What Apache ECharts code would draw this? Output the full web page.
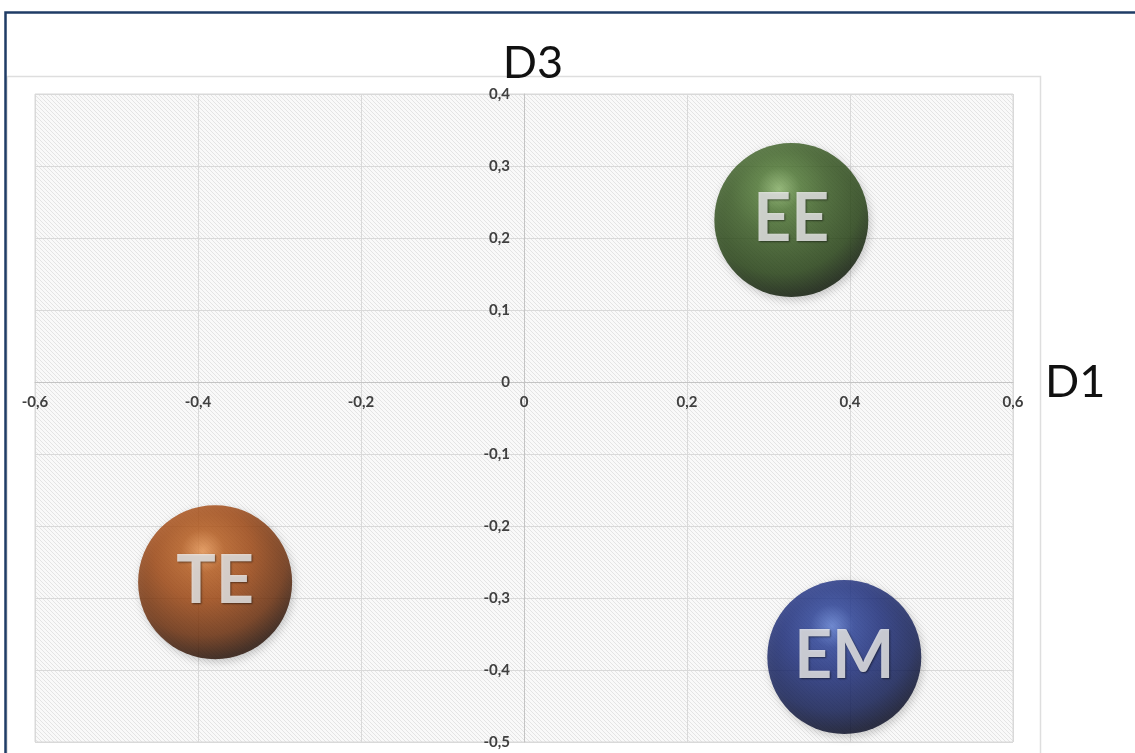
<!DOCTYPE html>
<html>
<head>
<meta charset="utf-8">
<script src="https://cdn.jsdelivr.net/npm/echarts@6/dist/echarts.min.js"></script>
<style>
  html, body { margin: 0; padding: 0; background: #ffffff; }
  #chart { width: 1135px; height: 753px; }
</style>
</head>
<body>
<div id="chart"></div>
<script>
// Group positions on the D1 / D3 plane
const categories = ['EE', 'TE', 'EM'];
const d1Values = [0.328, -0.379, 0.393];
const d3Values = [0.225, -0.278, -0.382];

// Axis extents and tick steps
const d1Range = [-0.6, 0.6];
const d1Step = 0.2;
const d3Range = [-0.5, 0.4];
const d3Step = 0.1;

// Sphere shading per group: highlight, light body, body, shade, rim
const sphereColors = {
  EE: ['#8ab569', '#4e7832', '#375a20', '#223f10', '#091503'],
  TE: ['#eb9550', '#b85a1a', '#a0450e', '#6a2a06', '#240c01'],
  EM: ['#5a7ad2', '#283f98', '#1a2b7c', '#0f1b54', '#040822']
};

function sphere(c) {
  return {
    type: 'radial', x: 0.42, y: 0.3, r: 0.7,
    colorStops: [
      { offset: 0, color: c[0] },
      { offset: 0.2, color: c[1] },
      { offset: 0.45, color: c[2] },
      { offset: 0.78, color: c[3] },
      { offset: 1, color: c[4] }
    ]
  };
}

// Fine diagonal hatch used as the plot-area fill
function hatchPattern() {
  const cv = document.createElement('canvas');
  cv.width = 4; cv.height = 4;
  const ctx = cv.getContext('2d');
  ctx.fillStyle = '#f9f9f9';
  ctx.fillRect(0, 0, 4, 4);
  ctx.strokeStyle = '#e4e4e4';
  ctx.lineWidth = 1;
  ctx.beginPath();
  ctx.moveTo(-1, -1); ctx.lineTo(5, 5);
  ctx.moveTo(-3, 1); ctx.lineTo(3, 7);
  ctx.moveTo(1, -3); ctx.lineTo(7, 3);
  ctx.stroke();
  return { image: cv, repeat: 'repeat' };
}

const fmt = v => (Math.abs(v) < 1e-9 ? '0' : v.toFixed(1).replace('.', ','));

// Plot box
const W = 1135, H = 753;
const gridBox = { left: 35, right: 122, top: 94, bottom: 11 };
const gridW = W - gridBox.left - gridBox.right;
const gridH = H - gridBox.top - gridBox.bottom;

// Shift both axes so they cross at the origin, labels included
const yAxisShift = -gridW * (0 - d1Range[0]) / (d1Range[1] - d1Range[0]);
const xAxisShift = -gridH * (0 - d3Range[0]) / (d3Range[1] - d3Range[0]);

const points = categories.map((name, i) => ({
  name: name,
  value: [d1Values[i], d3Values[i]],
  itemStyle: { color: sphere(sphereColors[name]) }
}));

const tickLabelStyle = {
  formatter: fmt, hideOverlap: false,
  fontFamily: 'Lato', fontWeight: 'bold', fontSize: 15, color: '#404040'
};

const chart = echarts.init(document.getElementById('chart'), null, { renderer: 'canvas' });

chart.setOption({
  animation: false,
  backgroundColor: '#ffffff',
  graphic: [
    {
      type: 'polyline', silent: true, z: 0,
      shape: { points: [[7, 753], [7, 76.5], [1040.5, 76.5], [1040.5, 753]] },
      style: { stroke: '#dedede', lineWidth: 1.5, fill: null }
    },
    {
      type: 'polyline', silent: true, z: 10,
      shape: { points: [[5.5, 753], [5.5, 12.5], [1135, 12.5]] },
      style: { stroke: '#1f3c66', lineWidth: 2.5, fill: null }
    }
  ],
  grid: {
    left: gridBox.left, right: gridBox.right, top: gridBox.top, bottom: gridBox.bottom,
    containLabel: false,
    outerBoundsMode: 'none',
    show: true,
    backgroundColor: hatchPattern(),
    borderColor: '#d9d9d9',
    borderWidth: 1
  },
  xAxis: {
    type: 'value',
    position: 'bottom',
    offset: xAxisShift,
    min: d1Range[0], max: d1Range[1], interval: d1Step,
    name: 'D1',
    nameLocation: 'end',
    nameGap: 32,
    nameTextStyle: { fontFamily: 'Lato', fontSize: 45, color: '#111111', verticalAlign: 'middle' },
    axisLine: { onZero: false, lineStyle: { color: '#c4c4c4', width: 1 } },
    axisTick: { show: false },
    axisLabel: Object.assign({ margin: 13 }, tickLabelStyle),
    splitLine: { show: true, lineStyle: { color: '#d9d9d9', width: 1 } }
  },
  yAxis: {
    type: 'value',
    position: 'left',
    offset: yAxisShift,
    min: d3Range[0], max: d3Range[1], interval: d3Step,
    name: 'D3',
    nameLocation: 'end',
    nameGap: 8,
    nameTextStyle: { fontFamily: 'Lato', fontSize: 45, color: '#111111', padding: [0, 0, 0, 18] },
    axisLine: { onZero: false, lineStyle: { color: '#c4c4c4', width: 1 } },
    axisTick: { show: false },
    axisLabel: Object.assign({ margin: 14 }, tickLabelStyle),
    splitLine: { show: true, lineStyle: { color: '#d9d9d9', width: 1 } }
  },
  series: [{
    type: 'scatter',
    data: points,
    symbol: 'circle',
    symbolSize: 154,
    itemStyle: {
      shadowBlur: 8,
      shadowColor: 'rgba(0,0,0,0.25)',
      shadowOffsetX: 2,
      shadowOffsetY: 3
    },
    label: {
      show: true,
      position: 'inside',
      formatter: p => p.name,
      fontFamily: 'Lato',
      fontWeight: 'bold',
      fontSize: 66,
      color: '#f2f2f2',
      textShadowColor: 'rgba(0,0,0,0.6)',
      textShadowBlur: 2,
      textShadowOffsetX: 1,
      textShadowOffsetY: 1
    },
    emphasis: { disabled: true }
  }]
});
</script>
</body>
</html>
